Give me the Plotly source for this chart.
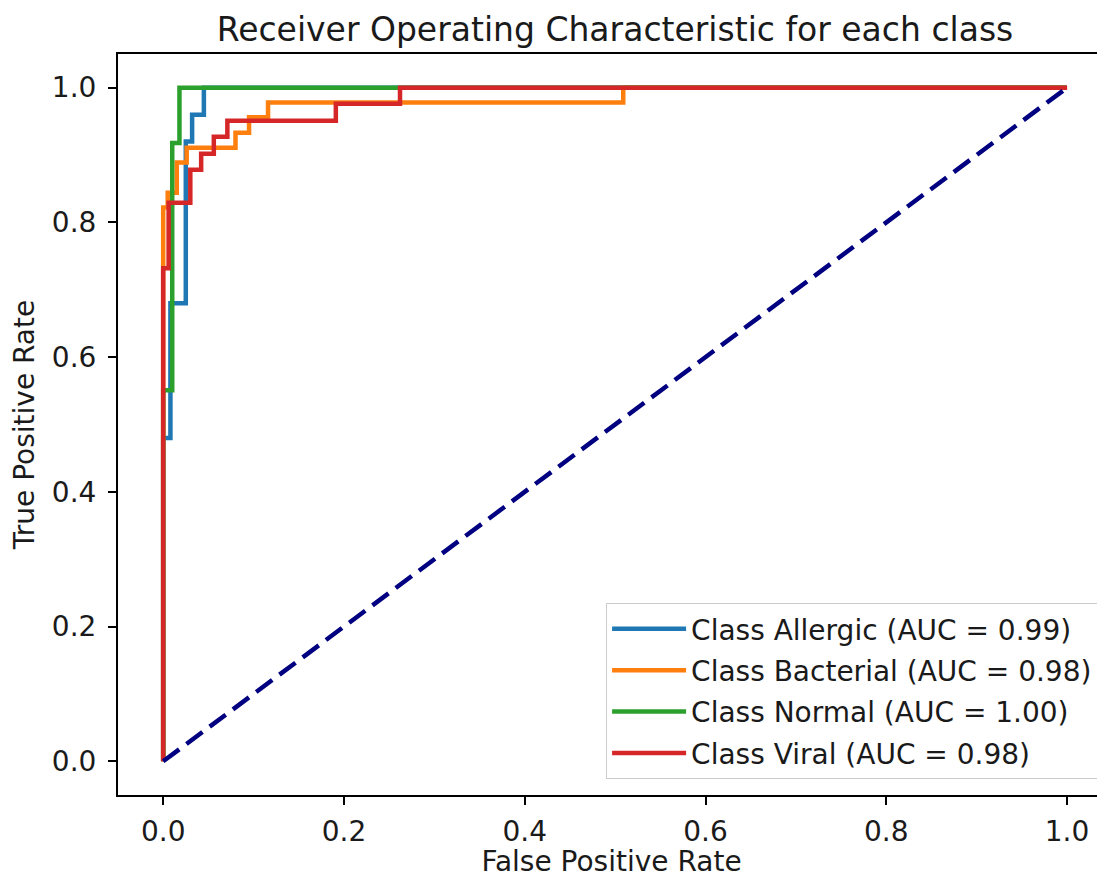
import plotly.graph_objects as go

# ROC curve vertices (FPR, TPR)
allergic_fpr = [0.0, 0.0, 0.008, 0.008, 0.025, 0.025, 0.032, 0.032, 0.045, 0.045, 1.0]
allergic_tpr = [0.0, 0.48, 0.48, 0.68, 0.68, 0.92, 0.92, 0.96, 0.96, 1.0, 1.0]

bacterial_fpr = [0.0, 0.0, 0.005, 0.005, 0.015, 0.015, 0.026, 0.026, 0.080, 0.080,
                 0.095, 0.095, 0.116, 0.116, 0.509, 0.509, 1.0]
bacterial_tpr = [0.0, 0.822, 0.822, 0.844, 0.844, 0.889, 0.889, 0.911, 0.911, 0.933,
                 0.933, 0.956, 0.956, 0.978, 0.978, 1.0, 1.0]

normal_fpr = [0.0, 0.0, 0.010, 0.010, 0.018, 0.018, 1.0]
normal_tpr = [0.0, 0.551, 0.551, 0.918, 0.918, 1.0, 1.0]

viral_fpr = [0.0, 0.0, 0.006, 0.006, 0.030, 0.030, 0.042, 0.042, 0.056, 0.056,
             0.071, 0.071, 0.191, 0.191, 0.262, 0.262, 1.0]
viral_tpr = [0.0, 0.732, 0.732, 0.829, 0.829, 0.878, 0.878, 0.902, 0.902, 0.927,
             0.927, 0.951, 0.951, 0.976, 0.976, 1.0, 1.0]

class_names = ["Allergic", "Bacterial", "Normal", "Viral"]
auc_values = ["0.99", "0.98", "1.00", "0.98"]
colors = ["#1f77b4", "#ff7f0e", "#2ca02c", "#d62728"]

chance_x = [0.0, 1.0]
chance_y = [0.0, 1.0]

x_ticks = [0.0, 0.2, 0.4, 0.6, 0.8, 1.0]
y_ticks = [0.0, 0.2, 0.4, 0.6, 0.8, 1.0]

FONT = "DejaVu Sans"
TXT = "#1a1a1a"

fig = go.Figure()
curves = [(allergic_fpr, allergic_tpr), (bacterial_fpr, bacterial_tpr),
          (normal_fpr, normal_tpr), (viral_fpr, viral_tpr)]
for i, ((fx, ty), name, auc, col) in enumerate(zip(curves, class_names, auc_values, colors)):
    fig.add_trace(go.Scatter(
        x=fx, y=ty, mode="lines",
        line=dict(color=col, width=4.5),
        name=f"Class {name} (AUC = {auc})",
        legendgroup=f"g{i}",
    ))

fig.add_trace(go.Scatter(
    x=chance_x, y=chance_y, mode="lines",
    line=dict(color="navy", width=4.5, dash="20px,9px"),
    showlegend=False,
))

# the page body adds an 8px offset; the figure is sized so it ends at the window edge
W, H = 1097, 870
fig.update_layout(
    width=W, height=H,
    margin=dict(l=110, r=0, t=46, b=83),
    paper_bgcolor="white", plot_bgcolor="white",
    font=dict(family=FONT, size=28, color=TXT),
    title=dict(
        text="Receiver Operating Characteristic for each class",
        font=dict(family=FONT, size=33, color=TXT),
        x=607 / W, xref="container", xanchor="center",
        y=1 - 21 / H, yref="container", yanchor="middle",
    ),
    legend=dict(
        x=0.993, y=0.0215, xanchor="right", yanchor="bottom",
        bgcolor="rgba(255,255,255,0.8)", bordercolor="#cccccc", borderwidth=1,
        font=dict(family=FONT, size=28, color=TXT),
        tracegroupgap=2, itemwidth=74,
    ),
    showlegend=True,
)

fig.update_xaxes(
    range=[-0.05, 1.042], tickvals=x_ticks, ticktext=[f"{v:.1f}" for v in x_ticks],
    showgrid=False, zeroline=False,
    showline=True, linecolor="black", linewidth=2, mirror=True,
    ticks="outside", ticklen=8, tickwidth=2, tickcolor="black",
    ticklabelstandoff=2,
    title=dict(text="False Positive Rate", standoff=6, font=dict(size=28)),
    tickfont=dict(size=28),
)
fig.update_yaxes(
    range=[-0.05, 1.05], tickvals=y_ticks, ticktext=[f"{v:.1f}" for v in y_ticks],
    showgrid=False, zeroline=False,
    showline=True, linecolor="black", linewidth=2, mirror=False,
    ticks="outside", ticklen=8, tickwidth=2, tickcolor="black",
    ticklabelstandoff=6,
    title=dict(text="True Positive Rate", standoff=10, font=dict(size=28)),
    tickfont=dict(size=28),
)

fig.write_html("out.html")
